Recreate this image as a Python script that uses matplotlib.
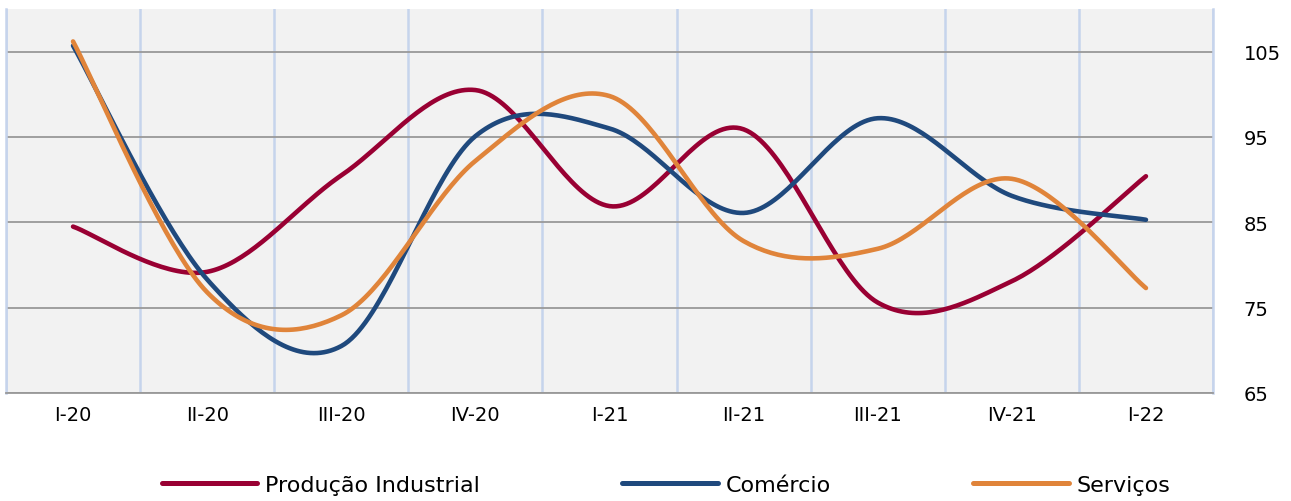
import matplotlib
matplotlib.use("Agg")
import matplotlib.pyplot as plt
import numpy as np

# dados (indice, base 100)
trimestres = ["I-20", "II-20", "III-20", "IV-20", "I-21", "II-21", "III-21", "IV-21", "I-22"]
producao_industrial = [84.5, 79.2, 90.5, 100.5, 86.9, 95.9, 75.6, 78.1, 90.4]
comercio = [105.7, 78.3, 70.5, 95.1, 96.0, 86.1, 97.2, 88.1, 85.3]
servicos = [106.2, 76.8, 74.1, 92.2, 99.8, 82.8, 81.9, 90.1, 77.3]

cor_ind = "#990033"
cor_com = "#1f497d"
cor_ser = "#e0843a"


# suavizacao tipo Excel (bezier cubica passando pelos pontos)
def suaviza(ys, n=40):
    xs = np.arange(len(ys), dtype=float)
    ys = np.asarray(ys, dtype=float)
    px, py = [], []
    for i in range(len(ys) - 1):
        a = max(i - 1, 0)
        b = min(i + 2, len(ys) - 1)
        c1x = xs[i] + (xs[i + 1] - xs[a]) / 6
        c1y = ys[i] + (ys[i + 1] - ys[a]) / 6
        c2x = xs[i + 1] - (xs[b] - xs[i]) / 6
        c2y = ys[i + 1] - (ys[b] - ys[i]) / 6
        t = np.linspace(0, 1, n)
        px.extend((1 - t) ** 3 * xs[i] + 3 * (1 - t) ** 2 * t * c1x + 3 * (1 - t) * t ** 2 * c2x + t ** 3 * xs[i + 1])
        py.extend((1 - t) ** 3 * ys[i] + 3 * (1 - t) ** 2 * t * c1y + 3 * (1 - t) * t ** 2 * c2y + t ** 3 * ys[i + 1])
    return px, py


fig = plt.figure(figsize=(12.91, 5.02), dpi=100)
ax = fig.add_axes([6 / 1291, 108 / 502, (1213 - 6) / 1291, 384 / 502])
ax.set_facecolor("#f2f2f2")

for serie, cor, nome in [(producao_industrial, cor_ind, "Produção Industrial"),
                         (comercio, cor_com, "Comércio"),
                         (servicos, cor_ser, "Serviços")]:
    sx, sy = suaviza(serie)
    ax.plot(sx, sy, color=cor, lw=3.3, solid_capstyle="round", label=nome, zorder=3)

ax.set_xlim(-0.5, len(trimestres) - 0.5)
ax.set_ylim(65, 110)
ax.set_xticks(range(len(trimestres)))
ax.set_xticklabels(trimestres, fontsize=14)
ax.set_xticks(np.arange(-0.5, len(trimestres)), minor=True)
ax.set_yticks([65, 75, 85, 95, 105])
ax.yaxis.tick_right()
ax.tick_params(axis="y", length=0, pad=22, labelsize=14)
ax.tick_params(axis="x", which="both", length=0, pad=9)

ax.grid(axis="y", color="#999999", lw=1.3, zorder=1)
ax.grid(axis="x", which="minor", color="#c6d4ec", lw=1.8, zorder=1)
ax.set_axisbelow(True)

ax.spines["top"].set_visible(False)
ax.spines["left"].set_color("#c6d4ec")
ax.spines["left"].set_linewidth(1.8)
ax.spines["right"].set_color("#c6d4ec")
ax.spines["right"].set_linewidth(1.8)
ax.spines["bottom"].set_color("#999999")
ax.spines["bottom"].set_linewidth(1.3)

leg = fig.legend(loc="center", bbox_to_anchor=(0.516, 0.032), ncol=3, frameon=False,
                 fontsize=16, handlelength=4.3, handletextpad=0.36, columnspacing=6.4)
for linha in leg.get_lines():
    linha.set_linewidth(3.6)
    linha.set_solid_capstyle("round")

fig.savefig("out.png", dpi=100)
